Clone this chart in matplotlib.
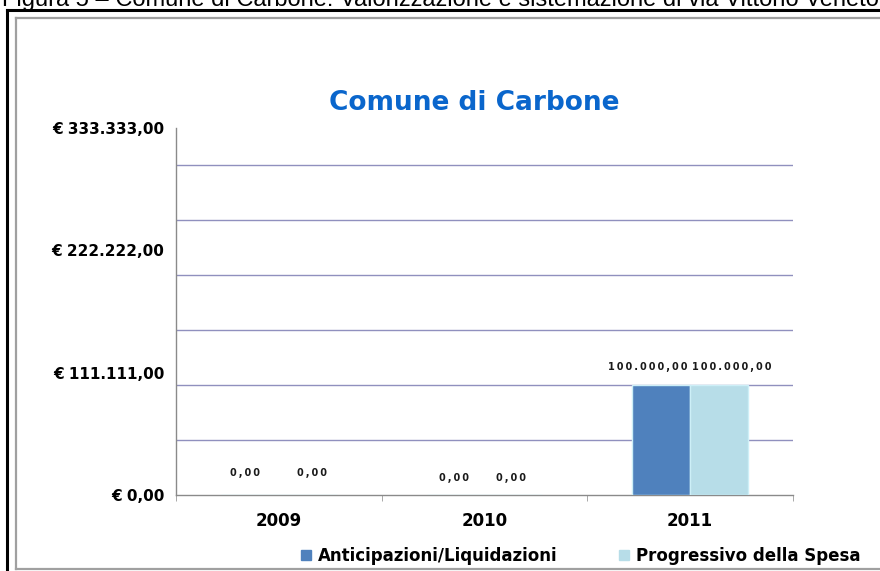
import matplotlib
matplotlib.use("Agg")
import matplotlib.pyplot as plt
from matplotlib.lines import Line2D
from matplotlib.ticker import FixedLocator, MultipleLocator
import numpy as np

# ---- data ----
categories = ["2009", "2010", "2011"]
series_names = ["Anticipazioni/Liquidazioni", "Progressivo della Spesa"]
anticipazioni = [0.0, 0.0, 100000.0]
progressivo = [0.0, 0.0, 100000.0]
y_ticks = [0, 111111, 222222, 333333]
y_max = 333333
grid_step = 50000
title = "Comune di Carbone"
caption = "Figura 5 \u2013 Comune di Carbone: Valorizzazione e sistemazione di via Vittorio Veneto"

colors = ["#4F81BD", "#B7DDE8"]
edge = "#CDEFF7"


def it_money(v):
    s = f"{v:,.2f}"
    s = s.replace(",", "X").replace(".", ",").replace("X", ".")
    return "\u20ac " + s


def it_label(v):
    s = f"{v:,.2f}"
    s = s.replace(",", "X").replace(".", ",").replace("X", ".")
    return "\u2009".join(s)


W, H = 880, 571
fig = plt.figure(figsize=(W / 100, H / 100), dpi=100)
fig.patch.set_facecolor("white")

ax = fig.add_axes([176 / W, 1 - 495 / H, (793 - 176) / W, (495 - 128) / H])
x = np.arange(len(categories))
bw = 0.2816
b1 = ax.bar(x - bw / 2, anticipazioni, bw, color=colors[0], edgecolor=edge, linewidth=1, zorder=3,
            label=series_names[0])
b2 = ax.bar(x + bw / 2, progressivo, bw, color=colors[1], edgecolor=edge, linewidth=1, zorder=3,
            label=series_names[1])

ax.set_xlim(-0.5, len(categories) - 0.5)
ax.set_ylim(0, y_max)

# grid
ax.yaxis.set_major_locator(FixedLocator(y_ticks))
ax.yaxis.set_minor_locator(MultipleLocator(grid_step))
ax.grid(False)
ax.grid(True, which="minor", axis="y", color="#9090BE", linewidth=1, zorder=0)
ax.set_yticklabels([it_money(v) for v in y_ticks])
ax.tick_params(axis="y", which="both", length=0, pad=8.5, labelsize=11)
for t in ax.get_yticklabels():
    t.set_fontweight("bold")

ax.set_xticks(x)
ax.set_xticklabels(categories, fontsize=12, fontweight="bold")
ax.xaxis.set_minor_locator(FixedLocator(np.arange(len(categories) + 1) - 0.5))
ax.tick_params(axis="x", which="major", length=0, pad=12)
ax.tick_params(axis="x", which="minor", length=4, color="#9A9A9A", direction="out")

for s in ["top", "right"]:
    ax.spines[s].set_visible(False)
for s in ["left", "bottom"]:
    ax.spines[s].set_color("#8A8A8A")
    ax.spines[s].set_linewidth(1)

# data labels
offsets1 = [-5, -2, -13]
offsets2 = [4, -2, 13]
for i, (bars, vals, offs) in enumerate([(b1, anticipazioni, offsets1), (b2, progressivo, offsets2)]):
    for j, (rect, v) in enumerate(zip(bars, vals)):
        dy = 12 if (j == 0 and v == 0) else (8.5 if v == 0 else 9)
        ax.annotate(it_label(v), (rect.get_x() + rect.get_width() / 2, v),
                    xytext=(offs[j] * 0.72, dy), textcoords="offset points",
                    ha="center", va="bottom", fontsize=7, fontweight="bold", color="#1A1A1A")

fig.text(474 / W, 1 - 110 / H, title, ha="center", va="baseline",
         fontsize=19, fontweight="bold", color="#0A66CC")

# legend
handles = [Line2D([], [], marker="s", linestyle="none", markersize=7, markerfacecolor=c,
                  markeredgecolor=c) for c in colors]
fig.legend(handles, series_names, loc="center", bbox_to_anchor=(581 / W, 1 - 556 / H), ncol=2,
           frameon=False, prop={"weight": "bold", "size": 12}, handlelength=0.6,
           handletextpad=0.4, columnspacing=3.7)

# caption (cut at top, as in the reference)
fig.text(2 / W, 1 - 6 / H, caption, ha="left", va="baseline", fontsize=17,
         family="Liberation Sans", color="black")

# page frame
fig.add_artist(Line2D([7 / W, 7 / W], [0, 1 - 10 / H], transform=fig.transFigure, color="black", lw=2.2))
fig.add_artist(Line2D([7 / W, 1], [1 - 10 / H, 1 - 10 / H], transform=fig.transFigure, color="black", lw=2.2))
fig.add_artist(Line2D([16 / W, 16 / W], [1 - 569 / H, 1 - 18 / H], transform=fig.transFigure, color="#A0A0A0", lw=1.6))
fig.add_artist(Line2D([16 / W, 1], [1 - 18 / H, 1 - 18 / H], transform=fig.transFigure, color="#A0A0A0", lw=1.6))
fig.add_artist(Line2D([16 / W, 1], [1 - 569 / H, 1 - 569 / H], transform=fig.transFigure, color="#A0A0A0", lw=1.6))

fig.savefig("out.png", dpi=100)
